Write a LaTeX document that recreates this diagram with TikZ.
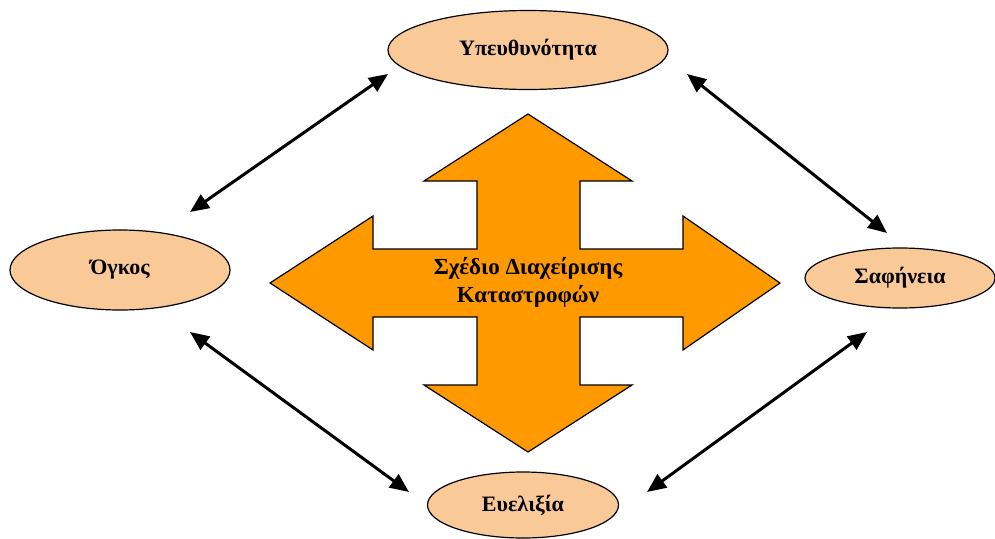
\documentclass[tikz,border=0pt]{standalone}
\usepackage{fontspec}
\setmainfont{Liberation Serif}
\usetikzlibrary{shapes.geometric,arrows.meta}
\definecolor{peach}{RGB}{249,201,152}
\definecolor{crossorange}{RGB}{255,153,0}
\tikzset{
  oval/.style={ellipse, draw=black, line width=1.2pt, fill=peach, inner sep=0pt,
    font=\fontsize{22}{26}\selectfont\bfseries},
  link/.style={line width=3pt, {Triangle[length=19pt,width=16pt]}-{Triangle[length=19pt,width=16pt]}},
  crossshape/.style={draw=black, line width=1.2pt, fill=crossorange, line join=miter},
  crosstext/.style={align=center, font=\fontsize{23}{28}\selectfont\bfseries}
}
\begin{document}
\begin{tikzpicture}[x=1pt,y=-1pt]
\useasboundingbox (0,0) rectangle (995,538);
% central four-way arrow
\draw[crossshape] (528,114) -- (632,181) -- (580,181) -- (580,249) -- (683,249) -- (683,216)
  -- (780,283) -- (683,350) -- (683,317) -- (580,317) -- (580,385) -- (632,385)
  -- (528,452) -- (424,385) -- (477,385) -- (477,317) -- (373,317) -- (373,350)
  -- (270,283) -- (373,216) -- (373,249) -- (477,249) -- (477,181) -- (424,181) -- cycle;
\node[crosstext] (plan) at (528,282) {Σχέδιο Διαχείρισης\\Καταστροφών};
% ellipses
\node[oval, minimum width=280pt, minimum height=79pt] (top) at (528,50) {Υπευθυνότητα};
\node[oval, minimum width=220pt, minimum height=80pt] (left) at (120,270) {Όγκος};
\node[oval, minimum width=190pt, minimum height=60pt] (right) at (900,278) {Σαφήνεια};
\node[oval, minimum width=191pt, minimum height=66pt] (bottom) at (523,505) {Ευελιξία};
% arrow end points
\coordinate (tl1) at (388,74);  \coordinate (tl2) at (190,212);
\coordinate (tr1) at (687,74);  \coordinate (tr2) at (887,233);
\coordinate (bl1) at (190,332); \coordinate (bl2) at (409,492);
\coordinate (br1) at (867,332); \coordinate (br2) at (647,492);
\draw[link] (tl2) -- (tl1);
\draw[link] (tr1) -- (tr2);
\draw[link] (bl1) -- (bl2);
\draw[link] (br2) -- (br1);
\end{tikzpicture}
\end{document}
